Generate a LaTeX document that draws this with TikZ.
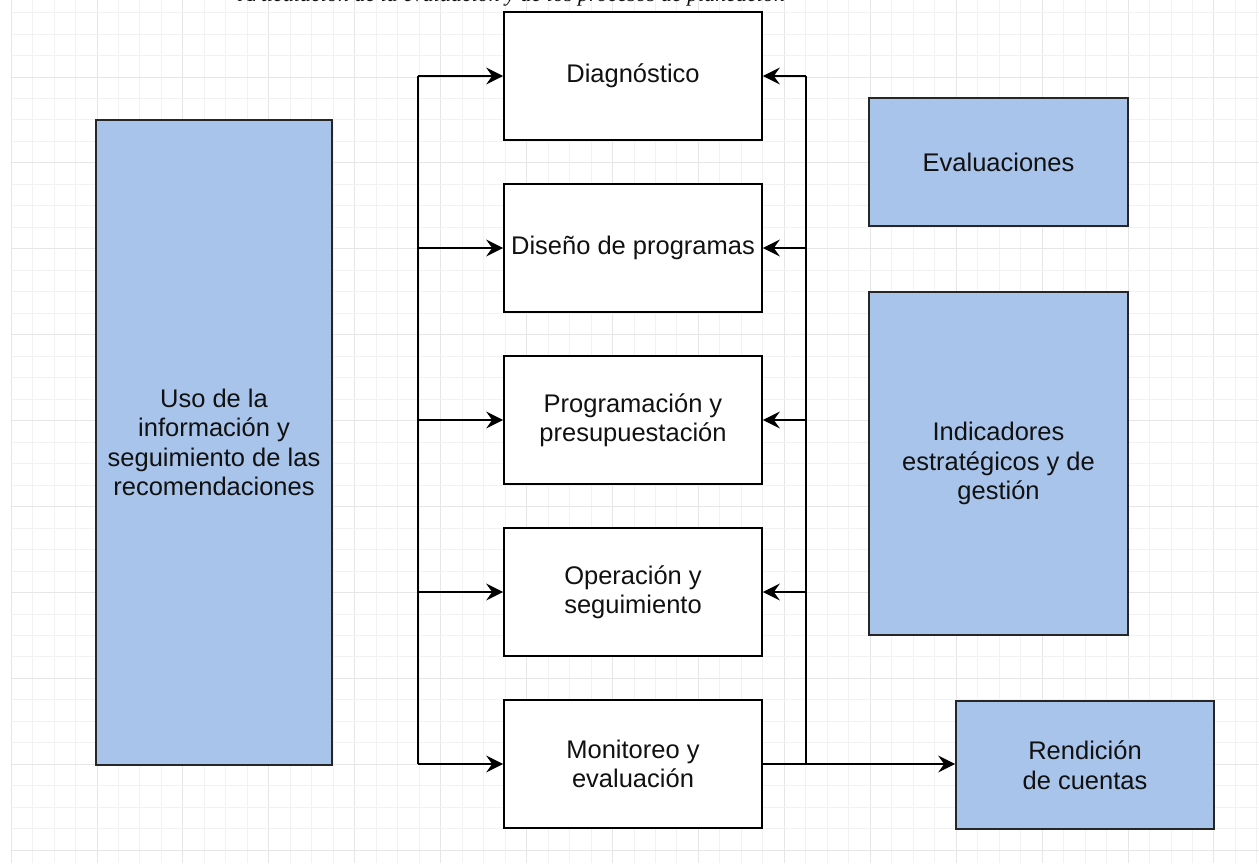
\documentclass[tikz,border=0pt]{standalone}
\usepackage{fontspec}
\setmainfont{Liberation Sans}
\newfontfamily\titlefont{Liberation Serif}
\usetikzlibrary{arrows.meta}
\definecolor{boxblue}{HTML}{A9C4EB}
\definecolor{gridminor}{HTML}{F2F2F2}
\definecolor{gridmajor}{HTML}{E6E6E6}
\definecolor{txt}{HTML}{111111}
\begin{document}
\begin{tikzpicture}[x=1pt,y=-1pt,
  box/.style={draw=black, line width=1.7pt, fill=white, rectangle, align=center,
    text=txt, font=\fontsize{25.5}{29.5}\selectfont, inner sep=2pt},
  bluebox/.style={box, fill=boxblue, draw=black!85},
  conn/.style={line width=1.6pt, draw=black},
  arr/.style={conn, -{Stealth[length=17pt, width=17pt, inset=6pt]}},
]
\useasboundingbox (0,0) rectangle (1259,863);
\clip (0,0) rectangle (1259,863);
\fill[white] (0,0) rectangle (1259,863);
% grid
\foreach \k in {0,...,58}{
  \pgfmathsetmacro\xx{11.1+\k*21.48}
  \pgfmathtruncatemacro\m{mod(\k,4)}
  \ifnum\m=0
    \draw[gridmajor, line width=1pt] (\xx,0) -- (\xx,863);
  \else
    \draw[gridminor, line width=1pt] (\xx,0) -- (\xx,863);
  \fi
}
\foreach \k in {1,...,40}{
  \pgfmathsetmacro\yy{-8.92+\k*21.48}
  \pgfmathtruncatemacro\m{mod(\k,4)}
  \ifnum\m=0
    \draw[gridmajor, line width=1pt] (11,\yy) -- (1259,\yy);
  \else
    \draw[gridminor, line width=1pt] (11,\yy) -- (1259,\yy);
  \fi
}
% title (cut off at the top edge, as in the reference)
\node[anchor=base, font=\titlefont\itshape\fontsize{22}{26}\selectfont, text=txt, inner sep=0pt]
  (title) at (512,1.5) {Articulación de la evaluación y de los procesos de planeación};

% boxes
\node[bluebox, minimum width=236pt, minimum height=645pt] (uso) at (214,442.5)
  {Uso de la\\información y\\seguimiento de las\\recomendaciones};
\node[box, minimum width=258pt, minimum height=128pt] (diag) at (633,76) {Diagnóstico};
\node[box, minimum width=258pt, minimum height=128pt] (dise) at (633,248) {Diseño de programas};
\node[box, minimum width=258pt, minimum height=128pt] (prog) at (633,420) {Programación y\\presupuestación};
\node[box, minimum width=258pt, minimum height=128pt] (oper) at (633,592) {Operación y\\seguimiento};
\node[box, minimum width=258pt, minimum height=128pt] (moni) at (633,764) {Monitoreo y\\evaluación};
\node[bluebox, minimum width=259pt, minimum height=128pt] (eval) at (998.5,162) {Evaluaciones};
\node[bluebox, minimum width=259pt, minimum height=343pt] (indic) at (998.5,463.5)
  {Indicadores\\estratégicos y de\\gestión};
\node[bluebox, minimum width=258pt, minimum height=128pt] (rend) at (1085,765) {Rendición\\de cuentas};

% buses
\coordinate (lbus) at (418,0);
\coordinate (rbus) at (806,0);
\coordinate (ltop) at (diag.west -| lbus);
\coordinate (lbot) at (moni.west -| lbus);
\coordinate (rtop) at (diag.east -| rbus);
\coordinate (rbot) at (moni.east -| rbus);

\draw[conn] (ltop) -- (lbot);
\draw[arr] (ltop) -- (diag.west);
\draw[arr] (dise.west -| lbus) -- (dise.west);
\draw[arr] (prog.west -| lbus) -- (prog.west);
\draw[arr] (oper.west -| lbus) -- (oper.west);
\draw[arr] (lbot) -- (moni.west);

\draw[conn] (rbot) -- (rtop);
\draw[arr] (rtop) -- (diag.east);
\draw[arr] (dise.east -| rbus) -- (dise.east);
\draw[arr] (prog.east -| rbus) -- (prog.east);
\draw[arr] (oper.east -| rbus) -- (oper.east);
\draw[arr] (moni.east) -- (rend.west |- moni.east);
\end{tikzpicture}
\end{document}
